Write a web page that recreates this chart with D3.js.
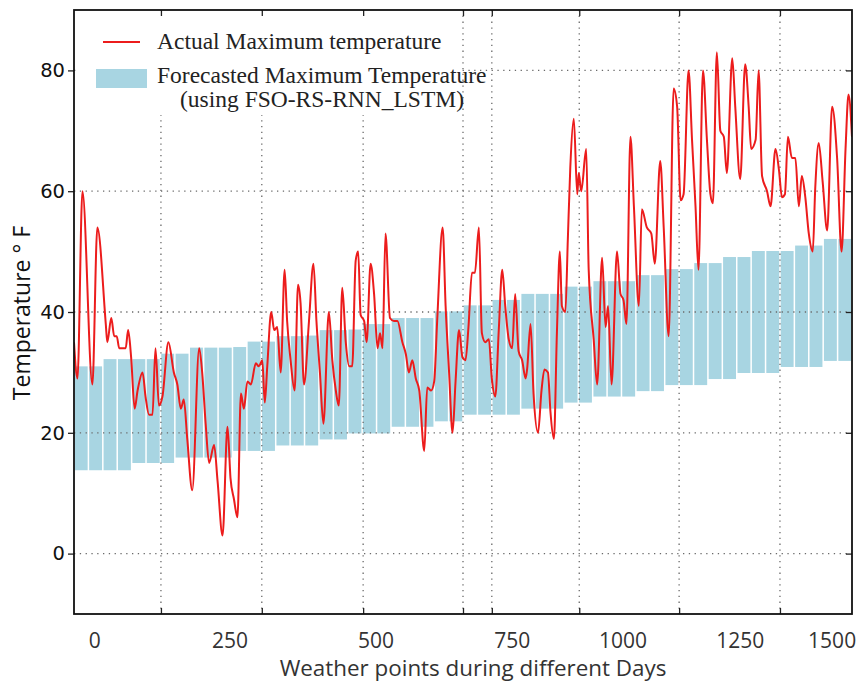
<!DOCTYPE html>
<html>
<head>
<meta charset="utf-8">
<script src="https://cdn.jsdelivr.net/npm/d3@7"></script>
<style>
  body { margin: 0; background: #fff; }
  svg { display: block; }
</style>
</head>
<body>
<svg id="chart" width="858" height="683"></svg>
<script>
// weather point index / actual max temperature (°F)
const actualX = [0, 7, 17, 37, 47, 64, 67, 75, 81, 86, 91, 104, 109, 115, 122, 128, 138, 144, 151, 158,
  164, 171, 178, 190, 201, 208, 215, 221, 228, 238, 252, 258, 265, 272, 282, 289, 299, 309, 315, 322,
  329, 336, 342, 349, 356, 366, 372, 379, 384, 389, 397, 403, 409, 416, 424, 429, 436, 444, 451, 456,
  463, 473, 482, 488, 495, 502, 513, 520, 527, 533, 540, 547, 554, 560, 567, 572, 577, 584, 589, 597,
  604, 611, 616, 621, 627, 636, 644, 651, 661, 668, 674, 681, 688, 695, 705, 711, 719, 725, 731, 742,
  748, 755, 762, 768, 775, 782, 788, 794, 801, 807, 815, 821, 828, 835, 841, 848, 855, 862, 868, 875,
  882, 888, 895, 902, 909, 912, 919, 925, 934, 941, 947, 954, 959, 966, 972, 978, 982, 989, 994, 999,
  1006, 1013, 1016, 1021, 1031, 1036, 1046, 1053, 1063, 1070, 1075, 1082, 1093, 1100, 1106, 1112, 1120, 1127, 1137, 1143,
  1153, 1162, 1169, 1180, 1187, 1197, 1207, 1214, 1221, 1227, 1237, 1244, 1251, 1257, 1266, 1274, 1281, 1286, 1294, 1301,
  1308, 1314, 1325, 1331, 1341, 1351, 1358, 1363, 1372, 1378, 1385, 1395, 1402, 1412, 1419, 1425, 1431, 1437, 1445, 1452,
  1459, 1465, 1472, 1479, 1487, 1492, 1499, 1507, 1516, 1526, 1536, 1545, 1553, 1559, 1566];
const actualTemp = [35, 29, 60, 28, 54, 38, 35, 39, 36, 36, 34, 34, 37, 32.5, 24, 27, 30, 26, 23, 23,
  34, 24.5, 26, 35, 30, 28, 24, 25.5, 19, 10.5, 34, 30, 21.5, 15, 18, 12, 3, 21, 12.5, 9,
  6, 26.5, 24, 28.5, 28, 31.5, 31, 32, 25, 31, 40, 37, 37.5, 30, 47, 38.5, 32, 27, 44.5, 41.5,
  28, 38.5, 48, 38.5, 30, 21.5, 40, 32, 27, 24.5, 44, 35, 31, 31, 48.5, 50, 39.5, 38.5, 35, 48,
  43, 34, 36.5, 34, 53, 39, 38.5, 38.5, 35, 33, 30, 32, 29, 27, 17, 27.5, 27, 28.5, 38.5, 54,
  41, 30, 20, 28.5, 37, 32.5, 32, 37.5, 46.5, 46.5, 54, 36.5, 35, 35.5, 29, 26, 37, 47, 41, 35.5,
  34, 43, 33.5, 32, 29, 30.5, 38, 26.5, 20, 27, 30.5, 30, 23.5, 19, 36.5, 50, 41, 40, 52, 64,
  72, 59.5, 63, 60, 67, 47, 35.5, 28, 49, 37.5, 41, 28, 50, 43, 42, 38, 69, 57.5, 41, 57,
  54, 53, 48, 65, 54, 36, 77, 74, 58.5, 59.5, 80, 68.5, 57.5, 47, 80, 68.5, 59.5, 58, 83, 70,
  69, 63, 82, 74, 62, 81, 74, 67, 68.5, 80, 62.5, 60, 57.5, 67, 63.5, 59, 59.5, 69, 65.5, 65.5,
  57.5, 62.5, 59, 53, 50, 60.5, 68, 61.5, 53.5, 74, 65.5, 50, 67, 76, 69];

// forecast band per block of weather points
const pointsPerBar = 29;
const forecastLow = [13.8, 13.8, 13.8, 13.8, 15.0, 15.0, 15.0, 15.9, 15.9, 15.9, 15.9, 17.0, 17.0, 17.0,
  17.9, 17.9, 17.9, 18.9, 18.9, 19.9, 19.9, 19.9, 21.0, 21.0, 21.0, 21.9, 21.9, 23.0, 23.0, 23.0, 23.0,
  24.0, 24.0, 24.0, 25.0, 25.0, 26.0, 26.0, 26.0, 26.9, 26.9, 27.9, 27.9, 27.9, 28.9, 28.9, 29.9, 29.9,
  29.9, 30.9, 30.9, 30.9, 31.9, 31.9];
const forecastHigh = [31.0, 31.0, 32.2, 32.2, 32.2, 32.2, 33.1, 33.1, 34.1, 34.1, 34.1, 34.2, 35.1, 35.1,
  36.0, 36.0, 36.1, 37.0, 37.0, 37.1, 38.0, 38.0, 39.0, 39.0, 39.0, 40.1, 40.1, 41.1, 41.1, 42.0, 42.0,
  43.0, 43.0, 43.0, 44.2, 44.2, 45.1, 45.1, 45.1, 46.1, 46.1, 47.1, 47.1, 48.1, 48.1, 49.1, 49.1, 50.1,
  50.1, 50.1, 51.0, 51.0, 52.1, 52.1];

// axes
const yTicks = [0, 20, 40, 60, 80];
const xGridAt = [175, 378, 582, 783, 841, 1017, 1218, 1421];
const xTickLabels = ["0", "250", "500", "750", "1000", "1250", "1500"];
const xTickLabelAt = [42, 314, 608, 882, 1105, 1341, 1526];

const legendLabels = ["Actual Maximum temperature", "Forecasted Maximum Temperature", "(using FSO-RS-RNN_LSTM)"];

const margin = {top: 10, right: 6, bottom: 69, left: 74};
const width = 858 - margin.left - margin.right;
const height = 683 - margin.top - margin.bottom;

const svg = d3.select("#chart");
const g = svg.append("g").attr("transform", `translate(${margin.left},${margin.top})`);

const x = d3.scaleLinear().domain([0, pointsPerBar * forecastLow.length]).range([0, width]);
const y = d3.scaleLinear().domain([-10, 90]).range([height, 0]);

g.append("clipPath").attr("id", "plot-clip")
  .append("rect").attr("width", width).attr("height", height);

const plot = g.append("g").attr("clip-path", "url(#plot-clip)");

// forecast bars
const barGap = 1.5;
plot.append("g")
  .selectAll("rect")
  .data(forecastLow.map((lo, i) => ({i, lo, hi: forecastHigh[i]})))
  .join("rect")
  .attr("x", d => x(d.i * pointsPerBar) + barGap / 2)
  .attr("width", x(pointsPerBar) - x(0) - barGap)
  .attr("y", d => y(d.hi))
  .attr("height", d => y(d.lo) - y(d.hi))
  .attr("fill", "#a8d5e2");

// dotted grid
const grid = plot.append("g")
  .attr("stroke", "#6a6a6a")
  .attr("stroke-width", 1.3)
  .attr("stroke-dasharray", "1.3,4.5");
grid.selectAll(".hg")
  .data(yTicks)
  .join("line")
  .attr("x1", 0).attr("x2", width)
  .attr("y1", d => y(d)).attr("y2", d => y(d));
grid.selectAll(".vg")
  .data(xGridAt)
  .join("line")
  .attr("x1", d => x(d)).attr("x2", d => x(d))
  .attr("y1", 0).attr("y2", height);

// legend sits on a white patch over the grid
const legend = g.append("g");
legend.append("rect")
  .attr("x", 3).attr("y", 1)
  .attr("width", 383).attr("height", 104)
  .attr("fill", "#fff");

// actual line
plot.append("path")
  .datum(actualX.map((d, i) => [d, actualTemp[i]]))
  .attr("fill", "none")
  .attr("stroke", "#ec1c1c")
  .attr("stroke-width", 2)
  .attr("stroke-linejoin", "round")
  .attr("d", d3.line().x(d => x(d[0])).y(d => y(d[1])).curve(d3.curveMonotoneX));

legend.append("line")
  .attr("x1", 29).attr("x2", 66)
  .attr("y1", 32).attr("y2", 32)
  .attr("stroke", "#ec1c1c").attr("stroke-width", 2);
legend.append("rect")
  .attr("x", 22).attr("y", 59)
  .attr("width", 51).attr("height", 19)
  .attr("fill", "#a8d5e2");
legend.selectAll("text")
  .data(legendLabels)
  .join("text")
  .attr("x", (d, i) => i === 2 ? 106 : 83)
  .attr("y", (d, i) => 39 + i * 34 - (i === 2 ? 10 : 0))
  .attr("font-family", "'Liberation Serif', 'Times New Roman', serif")
  .attr("font-size", 23.5)
  .attr("fill", "#222")
  .text(d => d);

// ticks (inward on all four sides)
const tickStyle = sel => {
  sel.select(".domain").remove();
  sel.selectAll(".tick line").attr("stroke", "#222").attr("stroke-width", 1.3);
};
g.append("g").attr("transform", `translate(0,${height})`)
  .call(d3.axisBottom(x).tickValues(xGridAt).tickSize(-6).tickFormat(""))
  .call(tickStyle);
g.append("g")
  .call(d3.axisTop(x).tickValues(xGridAt).tickSize(-6).tickFormat(""))
  .call(tickStyle);
g.append("g").attr("transform", `translate(${width},0)`)
  .call(d3.axisRight(y).tickValues(yTicks).tickSize(-6).tickFormat(""))
  .call(tickStyle);
g.append("g")
  .call(d3.axisLeft(y).tickValues(yTicks).tickSize(6).tickPadding(3))
  .call(tickStyle)
  .call(a => a.selectAll(".tick text")
    .attr("font-family", "'DejaVu Sans', sans-serif")
    .attr("font-size", 19.5)
    .attr("fill", "#111"));

// x tick labels sit apart from their tick marks in this figure
g.append("g")
  .selectAll("text")
  .data(xTickLabels)
  .join("text")
  .attr("x", (d, i) => x(xTickLabelAt[i]))
  .attr("y", height + 34)
  .attr("text-anchor", "middle")
  .attr("font-family", "'Open Sans', sans-serif")
  .attr("font-size", 21)
  .attr("fill", "#333")
  .text(d => d);

// frame
g.append("rect")
  .attr("width", width).attr("height", height)
  .attr("fill", "none")
  .attr("stroke", "#111")
  .attr("stroke-width", 1.8);

// axis titles
svg.append("text")
  .attr("x", 473).attr("y", 676)
  .attr("text-anchor", "middle")
  .attr("font-family", "'Open Sans', sans-serif")
  .attr("font-size", 22.4)
  .attr("fill", "#333")
  .text("Weather points during different Days");

svg.append("text")
  .attr("transform", "translate(30,313) rotate(-90)")
  .attr("text-anchor", "middle")
  .attr("font-family", "'Open Sans', sans-serif")
  .attr("font-size", 23)
  .attr("fill", "#111")
  .text("Temperature \u00B0 F");
</script>
</body>
</html>
